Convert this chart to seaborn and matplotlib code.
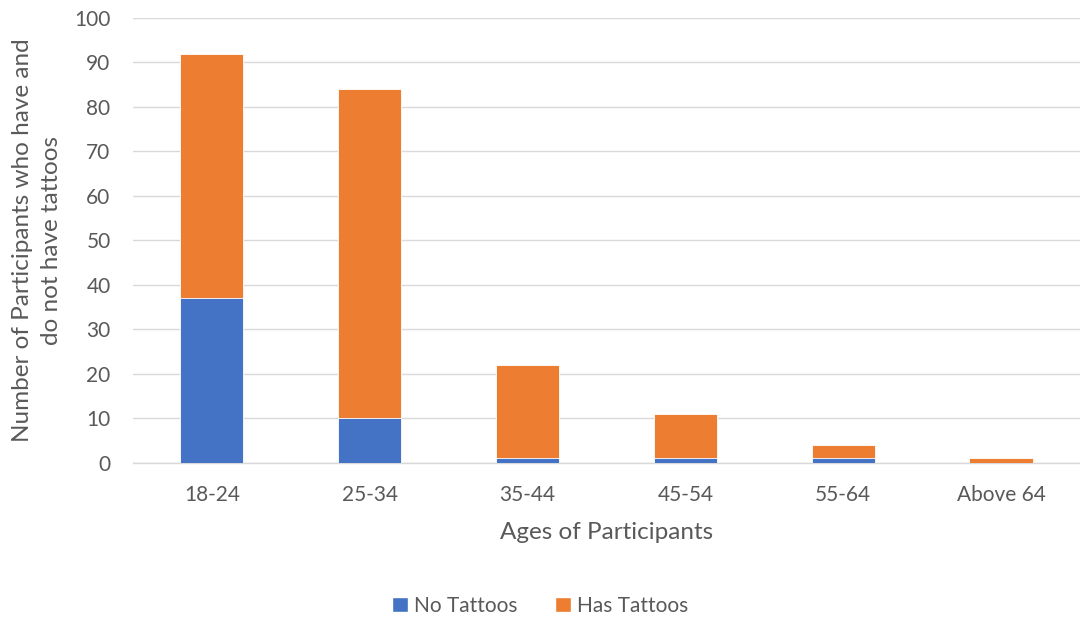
import matplotlib
matplotlib.use("Agg")
import matplotlib.pyplot as plt
import seaborn as sns
import pandas as pd
from matplotlib.patches import Patch

ages = ["18-24", "25-34", "35-44", "45-54", "55-64", "Above 64"]
no_tattoos = [37, 10, 1, 1, 1, 0]
has_tattoos = [55, 74, 21, 10, 3, 1]

blue = "#4472C4"
orange = "#ED7D31"
text_color = "#595959"

sns.set_theme(style="white")
plt.rcParams["font.family"] = ["Lato", "DejaVu Sans"]

df = pd.DataFrame({
    "age": ages,
    "none": no_tattoos,
    "has": has_tattoos,
})
df["total"] = df["none"] + df["has"]

fig = plt.figure(figsize=(10.8, 6.18), dpi=100)
ax = fig.add_axes([0.123, 0.251, 0.877, 0.72])

# stacked: full height in orange, lower segment in blue
sns.barplot(data=df, x="age", y="total", color=orange, width=0.4,
            saturation=1, edgecolor="white", linewidth=0.6, ax=ax, zorder=3)
sns.barplot(data=df, x="age", y="none", color=blue, width=0.4,
            saturation=1, edgecolor="white", linewidth=0.6, ax=ax, zorder=4)

ax.set_ylim(0, 100)
ax.set_yticks(range(0, 101, 10))
ax.yaxis.grid(True, color="#D9D9D9", linewidth=1.0, zorder=0)
ax.xaxis.grid(False)
for s in ["top", "right", "left"]:
    ax.spines[s].set_visible(False)
ax.spines["bottom"].set_color("#D9D9D9")
ax.spines["bottom"].set_linewidth(1.0)
ax.tick_params(axis="both", length=0, labelsize=15, colors=text_color)
ax.tick_params(axis="x", pad=16)
ax.tick_params(axis="y", pad=16)

ax.set_xlabel("Ages of Participants", fontsize=17.5, color=text_color, labelpad=12)
ax.set_ylabel("Number of Participants who have and\ndo not have tattoos",
              fontsize=17.5, color=text_color, labelpad=9, linespacing=1.45)

handles = [Patch(facecolor=blue, label="No Tattoos"),
           Patch(facecolor=orange, label="Has Tattoos")]
fig.legend(handles=handles, loc="center", bbox_to_anchor=(0.5, 0.02),
           ncol=2, frameon=False, fontsize=15, labelcolor=text_color,
           handlelength=0.75, handleheight=0.75, handletextpad=0.3,
           columnspacing=1.8)

fig.savefig("out.png", dpi=100)
